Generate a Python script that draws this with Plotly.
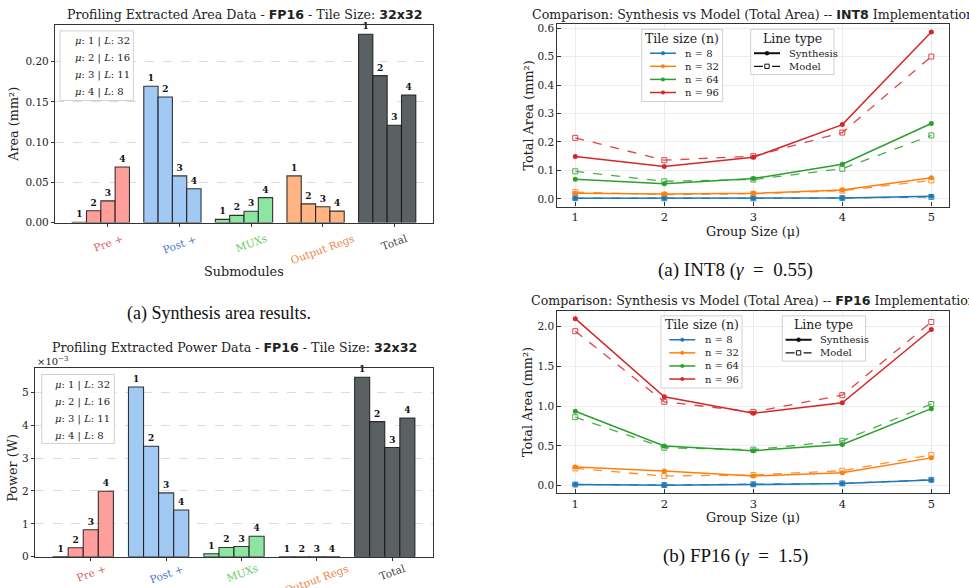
import plotly.graph_objects as go

W, H = 969, 588
def PX(p): return p / W
def PY(p): return 1 - p / H

SERIF = "DejaVu Serif, Liberation Serif, serif"
SANS = "DejaVu Sans, Liberation Sans, sans-serif"
CAP = "Liberation Serif, serif"

# ---------------- data ----------------
submodules = ["Pre +", "Post +", "MUXs", "Output Regs", "Total"]
mu_labels = ["1", "2", "3", "4"]
mu_values = [1, 2, 3, 4]
L_values = [32, 16, 11, 8]

area_pre = [0.0005, 0.0147, 0.027, 0.069]
area_post = [0.1695, 0.156, 0.058, 0.042]
area_mux = [0.004, 0.009, 0.014, 0.031]
area_oreg = [0.058, 0.0233, 0.0196, 0.0143]
area_total = [0.234, 0.1826, 0.121, 0.1585]

# power in units of 1e-3 W
power_pre = [0.003, 0.27, 0.82, 1.99]
power_post = [5.16, 3.36, 1.94, 1.42]
power_mux = [0.09, 0.28, 0.31, 0.62]
power_oreg = [0.002, 0.002, 0.002, 0.002]
power_total = [5.46, 4.11, 3.32, 4.22]

group_sizes = [1, 2, 3, 4, 5]
tile_sizes = [8, 32, 64, 96]

int8_synth_n8 = [0.002, 0.002, 0.002, 0.0035, 0.009]
int8_synth_n32 = [0.0196, 0.017, 0.0196, 0.031, 0.074]
int8_synth_n64 = [0.069, 0.053, 0.0715, 0.122, 0.265]
int8_synth_n96 = [0.149, 0.114, 0.146, 0.261, 0.586]
int8_model_n8 = [0.003, 0.002, 0.002, 0.003, 0.007]
int8_model_n32 = [0.024, 0.015, 0.018, 0.029, 0.065]
int8_model_n64 = [0.097, 0.062, 0.068, 0.106, 0.223]
int8_model_n96 = [0.2145, 0.136, 0.150, 0.233, 0.500]

fp16_synth_n8 = [0.016, 0.008, 0.016, 0.029, 0.074]
fp16_synth_n32 = [0.235, 0.185, 0.123, 0.165, 0.350]
fp16_synth_n64 = [0.934, 0.498, 0.440, 0.518, 0.967]
fp16_synth_n96 = [2.095, 1.115, 0.909, 1.041, 1.959]
fp16_model_n8 = [0.016, 0.010, 0.020, 0.030, 0.075]
fp16_model_n32 = [0.218, 0.123, 0.136, 0.189, 0.387]
fp16_model_n64 = [0.860, 0.477, 0.453, 0.564, 1.025]
fp16_model_n96 = [1.938, 1.053, 0.926, 1.136, 2.053]

# ---------------- styles ----------------
bar_fill = ["#FF9F9B", "#A1C9F4", "#8DE5A1", "#FFB482", "#5B6063"]
label_col = ["#D65F5F", "#4878D0", "#6ACC64", "#EE854A", "#444444"]
line_col = ["#1f77b4", "#ff7f0e", "#2ca02c", "#d62728"]
BAR_W = 0.2

fig = go.Figure()

area_series = [area_pre, area_post, area_mux, area_oreg, area_total]
power_series = [power_pre, power_post, power_mux, power_oreg, power_total]

def add_bars(series, xa, ya):
    for j in range(4):
        xs = [i + (j - 2) * BAR_W for i in range(len(submodules))]
        ys = [s[j] for s in series]
        fig.add_trace(go.Bar(
            x=xs, y=ys, width=BAR_W, xaxis=xa, yaxis=ya,
            marker=dict(color=bar_fill, line=dict(color="rgba(20,20,20,0.85)", width=1.1)),
            text=[mu_labels[j]] * len(xs), textposition="outside",
            textfont=dict(family=SERIF, size=9, color="#111", weight="bold"),
            cliponaxis=False, showlegend=False, hoverinfo="skip"))

add_bars(area_series, "x", "y")
add_bars(power_series, "x2", "y2")

def add_lines(synth, model, xa, ya):
    for k, n in enumerate(tile_sizes):
        fig.add_trace(go.Scatter(
            x=group_sizes, y=model[k], xaxis=xa, yaxis=ya, mode="lines+markers",
            line=dict(color=line_col[k], width=1.3, dash="dash"),
            marker=dict(symbol="square-open", size=5, color=line_col[k], line=dict(width=1)),
            opacity=0.85, showlegend=False, hoverinfo="skip"))
    for k, n in enumerate(tile_sizes):
        fig.add_trace(go.Scatter(
            x=group_sizes, y=synth[k], xaxis=xa, yaxis=ya, mode="lines+markers",
            line=dict(color=line_col[k], width=1.5),
            marker=dict(symbol="circle", size=5, color=line_col[k]),
            name=f"n = {n}", showlegend=False, hoverinfo="skip"))

add_lines([int8_synth_n8, int8_synth_n32, int8_synth_n64, int8_synth_n96],
          [int8_model_n8, int8_model_n32, int8_model_n64, int8_model_n96], "x3", "y3")
add_lines([fp16_synth_n8, fp16_synth_n32, fp16_synth_n64, fp16_synth_n96],
          [fp16_model_n8, fp16_model_n32, fp16_model_n64, fp16_model_n96], "x4", "y4")

# ---------------- axes ----------------
frame = dict(showline=True, mirror=True, linecolor="#333333", linewidth=1.2, zeroline=False)
tickf = dict(family=SERIF, size=10.5, color="#222")
xtickf = dict(family=SERIF, size=11.5, color="#222")

dom_A = dict(x=[PX(55), PX(433)], y=[PY(223), PY(22)])
dom_B = dict(x=[PX(35), PX(433)], y=[PY(562.3), PY(371)])
dom_C = dict(x=[PX(557.3), PX(949.3)], y=[PY(206.7), PY(21.7)])
dom_D = dict(x=[PX(557.3), PX(949.3)], y=[PY(497.7), PY(312.3)])

fig.update_layout(
    xaxis=dict(domain=dom_A["x"], anchor="y", range=[-0.74, 4.54], tickvals=list(range(5)),
               showticklabels=False, ticks="outside", ticklen=3, tickcolor="#333", showgrid=False, **frame),
    yaxis=dict(domain=dom_A["y"], anchor="x", range=[0, 0.246], tickvals=[0, 0.05, 0.10, 0.15, 0.20],
               tickformat=".2f", ticks="outside", ticklen=3, tickcolor="#333", tickfont=tickf,
               showgrid=True, gridcolor="#dcdcdc", griddash="dash", gridwidth=0.8, **frame),
    xaxis2=dict(domain=dom_B["x"], anchor="y2", range=[-0.74, 4.54], tickvals=list(range(5)),
                showticklabels=False, ticks="outside", ticklen=3, tickcolor="#333", showgrid=False, **frame),
    yaxis2=dict(domain=dom_B["y"], anchor="x2", range=[0, 5.73], tickvals=[0, 1, 2, 3, 4, 5],
                ticks="outside", ticklen=3, tickcolor="#333", tickfont=tickf,
                showgrid=True, gridcolor="#dcdcdc", griddash="dash", gridwidth=0.8, **frame),
    xaxis3=dict(domain=dom_C["x"], anchor="y3", range=[0.798, 5.202], tickvals=group_sizes,
                ticks="inside", ticklen=4, tickcolor="#333", tickfont=xtickf, ticklabelstandoff=0,
                showgrid=True, gridcolor="#ececec", **frame),
    yaxis3=dict(domain=dom_C["y"], anchor="x3", range=[-0.0267, 0.613], tickvals=[0, 0.1, 0.2, 0.3, 0.4, 0.5, 0.6],
                tickformat=".1f", ticks="inside", ticklen=4, tickcolor="#333", tickfont=tickf,
                showgrid=True, gridcolor="#ececec", **frame),
    xaxis4=dict(domain=dom_D["x"], anchor="y4", range=[0.798, 5.202], tickvals=group_sizes,
                ticks="inside", ticklen=4, tickcolor="#333", tickfont=xtickf, ticklabelstandoff=0,
                showgrid=True, gridcolor="#ececec", **frame),
    yaxis4=dict(domain=dom_D["y"], anchor="x4", range=[-0.0914, 2.197], tickvals=[0, 0.5, 1.0, 1.5, 2.0],
                tickformat=".1f", ticks="inside", ticklen=4, tickcolor="#333", tickfont=tickf,
                showgrid=True, gridcolor="#ececec", **frame),
)

ann = []
def A(text, x, y, size=11, family=SERIF, color="#222", angle=0, xanchor="center", yanchor="middle",
      xref="paper", **kw):
    ann.append(dict(text=text, x=x, y=y, xref=xref, yref="paper", showarrow=False,
                    font=dict(family=family, size=size, color=color), textangle=angle,
                    xanchor=xanchor, yanchor=yanchor, **kw))

def bsans(t):
    return f"<span style='font-family:DejaVu Sans'><b>{t}</b></span>"

def box(x0, y0, x1, y1):
    fig.add_shape(type="rect", xref="paper", yref="paper", x0=PX(x0), x1=PX(x1), y0=PY(y1), y1=PY(y0),
                  line=dict(color="#d0d0d0", width=1), fillcolor="rgba(255,255,255,0.88)", layer="above")

def seg(x0, x1, y, color, width, dash="solid"):
    fig.add_shape(type="line", xref="paper", yref="paper", x0=PX(x0), x1=PX(x1), y0=PY(y), y1=PY(y),
                  line=dict(color=color, width=width, dash=dash), layer="above")

def dot(cx, cy, r, color, kind="circle"):
    if kind == "circle":
        fig.add_shape(type="circle", xref="paper", yref="paper", x0=PX(cx - r), x1=PX(cx + r),
                      y0=PY(cy + r), y1=PY(cy - r), line=dict(color=color, width=0.5),
                      fillcolor=color, layer="above")
    else:
        fig.add_shape(type="rect", xref="paper", yref="paper", x0=PX(cx - r), x1=PX(cx + r),
                      y0=PY(cy + r), y1=PY(cy - r), line=dict(color=color, width=1),
                      fillcolor="white", layer="above")

# manual legends for right panels
def tile_legend(ox, oy):
    box(ox, oy, ox + 81, oy + 73.3)
    A("Tile size (n)", PX(ox + 40.5), PY(oy + 9), size=12.5)
    for k, n in enumerate(tile_sizes):
        yy = oy + 24.3 + k * 13.3
        seg(ox + 8.3, ox + 34.3, yy, line_col[k], 1.5)
        dot(ox + 21.3, yy, 1.8, line_col[k])
        A(f"n = {n}", PX(ox + 41.6), PY(yy), size=10, xanchor="left")

def type_legend(ox, oy):
    box(ox, oy, ox + 83.3, oy + 46)
    A("Line type", PX(ox + 41.6), PY(oy + 9), size=12.5)
    yy = oy + 24.3
    seg(ox + 3.3, ox + 29.3, yy, "#111", 2)
    dot(ox + 16.3, yy, 2, "#111")
    A("Synthesis", PX(ox + 36), PY(yy), size=10, xanchor="left")
    yy = oy + 37.6
    seg(ox + 3.3, ox + 29.3, yy, "#111", 1.3, "dash")
    dot(ox + 16.3, yy, 2.2, "#111", kind="square")
    A("Model", PX(ox + 36), PY(yy), size=10, xanchor="left")

tile_legend(641.7, 26.7)
type_legend(750.7, 26.7)
tile_legend(661, 317.7)
type_legend(782.3, 317.7)

# titles
TS = 12.6
A(f"Profiling Extracted Area Data - {bsans('FP16')} - Tile Size: {bsans('32x32')}", PX(244), PY(12), size=TS)
A(f"Profiling Extracted Power Data - {bsans('FP16')} - Tile Size: {bsans('32x32')}", PX(234), PY(350), size=TS)
A(f"Comparison: Synthesis vs Model (Total Area) -- {bsans('INT8')} Implementation", PX(753), PY(12), size=TS)
A(f"Comparison: Synthesis vs Model (Total Area) -- {bsans('FP16')} Implementation", PX(753), PY(302), size=TS)

# axis titles
LS = 12.8
A("Area (mm²)", PX(12.7), PY(123), size=LS, angle=-90)
A("Power (W)", PX(13), PY(472), size=LS, angle=-90)
A("Submodules", PX(244), PY(272.7), size=LS)
A("Total Area (mm²)", PX(528.3), PY(114), size=LS, angle=-90)
A("Total Area (mm²)", PX(528.3), PY(405), size=LS, angle=-90)
A("Group Size (μ)", PX(753), PY(232), size=LS)
A("Group Size (μ)", PX(753), PY(523), size=LS)
A("×10<sup>−3</sup>", PX(35), PY(364), size=10, xanchor="left")

# rotated category labels
for i, name in enumerate(submodules):
    A(name, i, PY(230), size=10.5, color=label_col[i], angle=-20, yanchor="top", xref="x")
    A(name, i, PY(565), size=10.5, color=label_col[i], angle=-20, yanchor="top", xref="x2")

# mu/L legend boxes (left panels)
def mu_legend(x0, y0, x1, y1, tx, ty0, dy):
    box(x0, y0, x1, y1)
    for k in range(4):
        A(f"<i>μ</i>: {mu_values[k]} | <i>L</i>: {L_values[k]}", PX(tx), PY(ty0 + k * dy),
          size=10, xanchor="left")

mu_legend(60, 28.3, 133.3, 99, 72.7, 38.5, 17.3)
mu_legend(41.7, 377.3, 114.3, 447.3, 53.3, 387.5, 17.3)

# captions
NB = "&nbsp;"
A("(a) Synthesis area results.", PX(219), PY(315), size=18, family=CAP, color="#111")
A(f"(a) INT8 (<i>γ</i>{NB}{NB}={NB}{NB}0.55)", PX(735.7), PY(270.7), size=19, family=CAP, color="#111")
A(f"(b) FP16 (<i>γ</i>{NB}{NB}={NB}{NB}1.5)", PX(735.7), PY(561.7), size=19, family=CAP, color="#111")

fig.update_layout(annotations=ann, width=W, height=H, margin=dict(l=0, r=0, t=0, b=0),
                  paper_bgcolor="white", plot_bgcolor="white", barmode="overlay",
                  showlegend=False, font=dict(family=SERIF))

fig.write_html("out.html")
